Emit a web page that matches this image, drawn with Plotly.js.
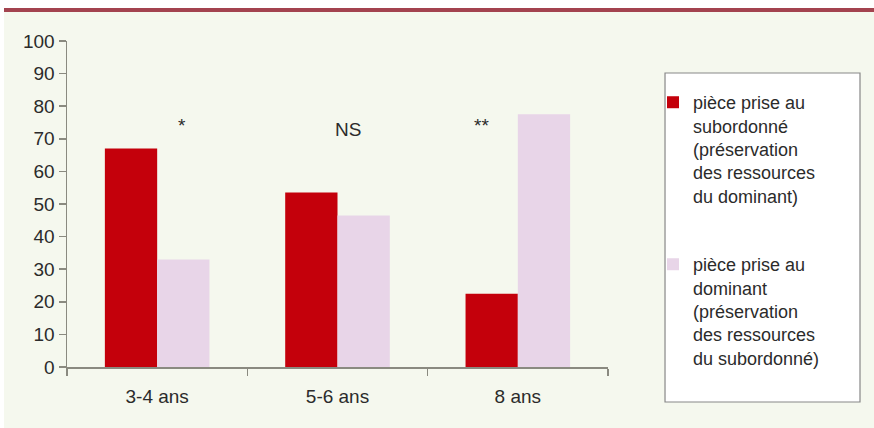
<!DOCTYPE html>
<html>
<head>
<meta charset="utf-8">
<script src="https://cdn.plot.ly/plotly-3.0.1.min.js"></script>
<style>html,body{margin:0;padding:0;background:#fff;}#chart{width:874px;height:428px;}</style>
</head>
<body>
<div id="chart"></div>
<script>
// ---- data ----
const categories = ["3-4 ans", "5-6 ans", "8 ans"];
const seriesNames = [
  "pièce prise au<br>subordonné<br>(préservation<br>des ressources<br>du dominant)",
  "pièce prise au<br>dominant<br>(préservation<br>des ressources<br>du subordonné)"
];
const subordonneValues = [67, 53.5, 22.5];
const dominantValues = [33, 46.5, 77.5];
const significanceLabels = ["*", "NS", "**"];
const significancePositions = [0.14, 1.06, 1.8];
const significanceHeights = [74, 73, 74];
const yTickValues = [0, 10, 20, 30, 40, 50, 60, 70, 80, 90, 100];

const FONT = "Liberation Sans, Arial, sans-serif";
const TEXT = "#2b2b2b";
const AXIS = "#8a8a80";

const traces = [
  {type: "bar", x: categories, y: subordonneValues, name: seriesNames[0],
   legendgroup: "a", marker: {color: "#c4000b"}, hoverinfo: "y"},
  {type: "bar", x: categories, y: dominantValues, name: seriesNames[1],
   legendgroup: "b", marker: {color: "#e8d5e8"}, hoverinfo: "y"}
];

const annotations = significanceLabels.map((t, i) => ({
  x: significancePositions[i], y: significanceHeights[i], xref: "x", yref: "y",
  text: t, showarrow: false, font: {family: FONT, size: 19, color: TEXT}
}));

const layout = {
  width: 874, height: 428,
  margin: {l: 67, r: 266, t: 41, b: 61},
  paper_bgcolor: "#ffffff",
  plot_bgcolor: "rgba(0,0,0,0)",
  font: {family: FONT, size: 19, color: TEXT},
  barmode: "group",
  bargap: 0.42,
  bargroupgap: 0,
  xaxis: {
    type: "category", showline: true, linecolor: AXIS, linewidth: 1.5,
    ticks: "outside", tickson: "boundaries", ticklen: 7, tickcolor: AXIS, tickwidth: 1.5,
    ticklabelstandoff: 12,
    showgrid: false, zeroline: false, tickfont: {family: FONT, size: 19, color: TEXT}
  },
  yaxis: {
    range: [0, 100], tickvals: yTickValues, showline: true, linecolor: AXIS, linewidth: 1.5,
    ticks: "outside", ticklen: 7, tickcolor: AXIS, tickwidth: 1.5,
    showgrid: false, zeroline: false, tickfont: {family: FONT, size: 19, color: TEXT}
  },
  showlegend: true,
  legend: {
    x: 1.0832, y: 0.868, xanchor: "left", yanchor: "top",
    bgcolor: "rgba(0,0,0,0)", borderwidth: 0, valign: "top",
    traceorder: "grouped", tracegroupgap: 42,
    font: {family: FONT, size: 18, color: TEXT}
  },
  annotations: annotations,
  shapes: [
    {type: "rect", xref: "paper", yref: "paper", x0: -0.11645, x1: 1.4917, y0: -0.18712, y1: 1.08896,
     fillcolor: "#f5f8ee", line: {width: 0}, layer: "below"},
    {type: "rect", xref: "paper", yref: "paper", x0: -0.11645, x1: 1.4917, y0: 1.08896, y1: 1.10123,
     fillcolor: "#a3434f", line: {width: 0}, layer: "below"},
    {type: "rect", xref: "paper", yref: "paper", x0: 1.1054, x1: 1.4658, y0: -0.1074, y1: 0.9018,
     fillcolor: "#ffffff", line: {color: "#888888", width: 1.2}, layer: "below"}
  ]
};

Plotly.newPlot("chart", traces, layout, {displayModeBar: false, staticPlot: true});
</script>
</body>
</html>
